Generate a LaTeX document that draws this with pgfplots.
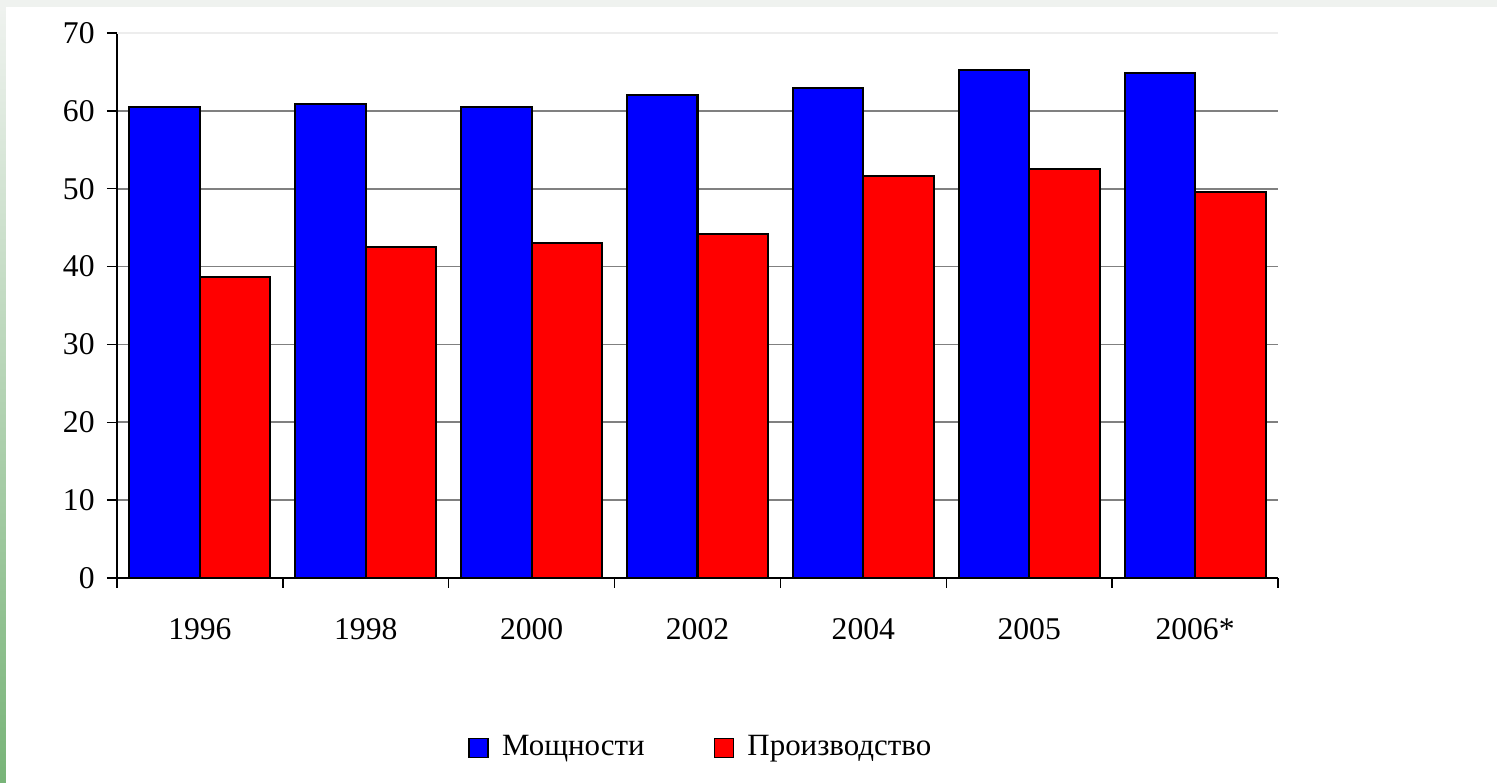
\documentclass[border=0pt]{standalone}
\usepackage{fontspec}
\setmainfont{Liberation Serif}
\usepackage{pgfplots}
\pgfplotsset{compat=1.18}
\definecolor{bgframe}{HTML}{EFF2EF}
\definecolor{stripgreen}{HTML}{78B478}
\definecolor{gridgray}{HTML}{808080}

\pgfplotsset{
  sqleg/.style={legend image code/.code={\draw[##1, line width=0.5pt] (0cm,-0.095cm) rectangle (0.19cm,0.095cm);}},
}

\begin{document}
\begin{tikzpicture}[x=1cm,y=1cm]
\fill[bgframe] (0,0) rectangle (14.97,7.83);
\shade[top color=bgframe, bottom color=stripgreen] (0,0) rectangle (0.06,7.76);
\fill[white] (0.06,0) rectangle (14.97,7.76);
\begin{axis}[
  at={(1.17cm,2.05cm)}, anchor=south west,
  width=11.61cm, height=5.45cm, scale only axis,
  xmin=-0.5, xmax=6.5, ymin=0, ymax=70,
  axis x line*=bottom, axis y line*=left,
  axis line style={black, line width=0.4pt},
  xtick={-0.5,0.5,...,6.5},
  xticklabels={1996,1998,2000,2002,2004,2005,2006*},
  x tick label as interval,
  ytick={0,10,...,60},
  extra y ticks={70},
  extra y tick style={grid style={black!7, line width=0.5pt}},
  ymajorgrids,
  grid style={gridgray, line width=0.5pt},
  tick align=outside,
  major tick length=0.1cm,
  tick style={black, line width=0.4pt},
  ticklabel style={font=\fontsize{9}{10}\selectfont},
  xticklabel style={yshift=-0.18cm},
  /pgf/number format/assume math mode=true,
  legend columns=2,
  legend style={at={(0.505,-0.312)}, anchor=center, draw=none, fill=none,
    font=\fontsize{8.8}{11}\selectfont,
    /tikz/every odd column/.append style={column sep=0.06cm},
    /tikz/every even column/.append style={column sep=0.62cm}},
]
\addplot[ybar, sqleg, bar width=0.425, bar shift=-0.2125, fill=blue, draw=black, line width=0.6pt]
  coordinates {(0,60.5) (1,60.9) (2,60.5) (3,62.0) (4,62.9) (5,65.2) (6,64.9)};
\addplot[ybar, sqleg, bar width=0.425, bar shift=0.2125, fill=red, draw=black, line width=0.6pt]
  coordinates {(0,38.7) (1,42.5) (2,43.0) (3,44.2) (4,51.6) (5,52.5) (6,49.6)};
\legend{Мощности, Производство}
\end{axis}
\useasboundingbox (0,0) rectangle (14.97,7.83);
\end{tikzpicture}
\end{document}
